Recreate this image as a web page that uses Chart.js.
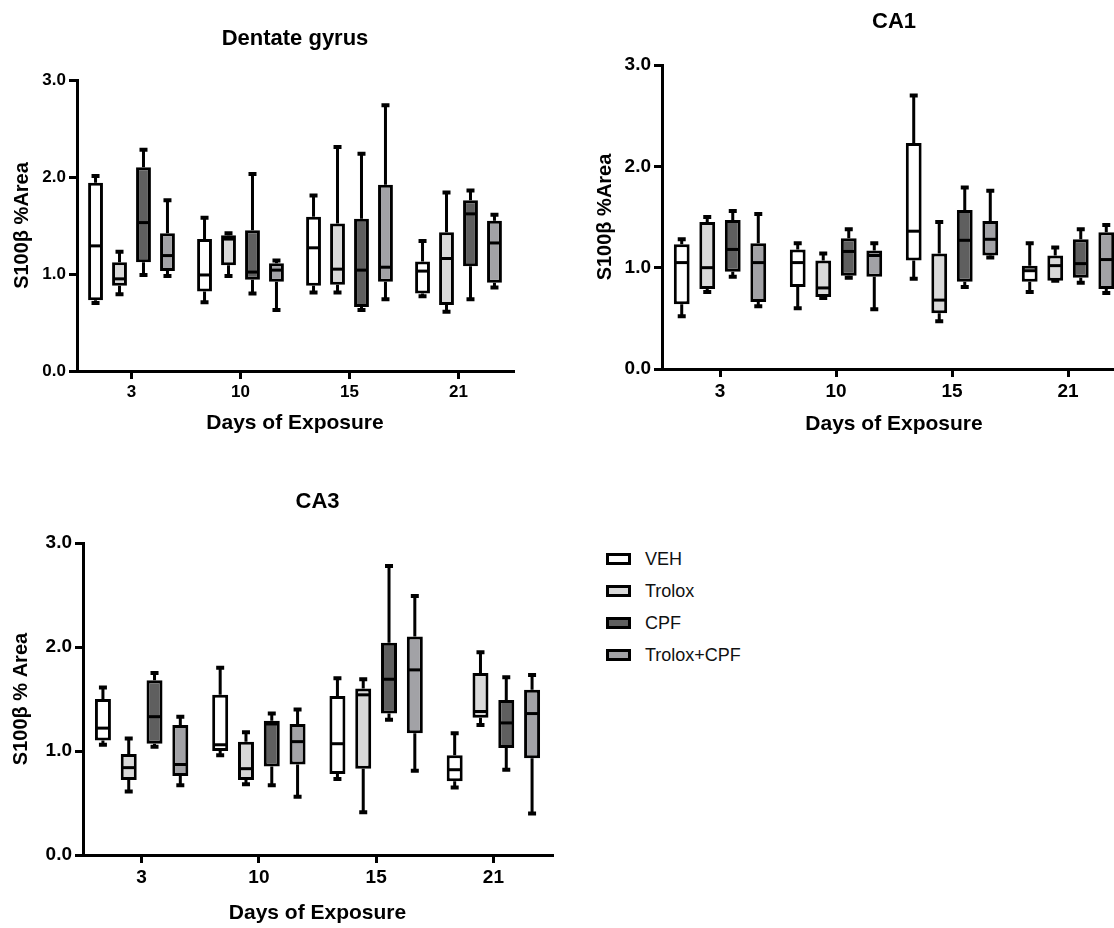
<!DOCTYPE html>
<html><head><meta charset="utf-8">
<script src="https://cdn.jsdelivr.net/npm/chart.js@4.4.1/dist/chart.umd.min.js"></script>
<style>
html,body{margin:0;padding:0;background:#fff;overflow:hidden;width:1114px;height:928px;}
#wrap{position:relative;width:1114px;height:928px;overflow:hidden;background:#fff;}
canvas{position:absolute;}
#legend{position:absolute;left:606px;top:543px;font-family:"Liberation Sans",Arial,sans-serif;font-size:18px;color:#111;}
.li{display:flex;align-items:center;height:32px;white-space:nowrap;}
.sw{width:19px;height:6px;border:3px solid #000;margin-right:14px;}
</style></head><body>
<div id="wrap">
<canvas id="c1" width="530" height="445" style="left:0;top:0"></canvas>
<canvas id="c2" width="560" height="450" style="left:580px;top:0"></canvas>
<canvas id="c3" width="570" height="458" style="left:0;top:470px"></canvas>
<div id="legend"></div>
</div>
<script>
// ---- data: each entry = [min, Q1, median, Q3, max] per day ----
const days = ['3', '10', '15', '21'];
const groups = ['VEH', 'Trolox', 'CPF', 'Trolox+CPF'];
const groupColors = ['#ffffff', '#d9d9d9', '#5f5f5f', '#a2a2a6'];
const yTicks = [0, 1, 2, 3];

// Dentate gyrus
const dgVEH    = [[0.70,0.73,1.29,1.94,2.01],[0.71,0.82,0.99,1.36,1.58],[0.81,0.88,1.27,1.59,1.81],[0.77,0.80,1.03,1.13,1.34]];
const dgTrolox = [[0.79,0.88,0.95,1.12,1.23],[0.98,1.09,1.36,1.40,1.42],[0.81,0.89,1.05,1.52,2.31],[0.61,0.68,1.16,1.43,1.84]];
const dgCPF    = [[0.99,1.12,1.53,2.10,2.28],[0.80,0.94,1.02,1.45,2.03],[0.63,0.66,1.04,1.57,2.24],[0.74,1.08,1.62,1.76,1.86]];
const dgTroCPF = [[0.98,1.03,1.19,1.42,1.76],[0.63,0.92,1.04,1.11,1.14],[0.74,0.92,1.07,1.92,2.74],[0.86,0.91,1.32,1.55,1.61]];

// CA1
const ca1VEH    = [[0.52,0.64,1.05,1.23,1.28],[0.60,0.81,1.05,1.18,1.24],[0.89,1.07,1.36,2.23,2.70],[0.76,0.86,0.97,1.02,1.24]];
const ca1Trolox = [[0.76,0.79,1.00,1.45,1.50],[0.70,0.71,0.80,1.07,1.14],[0.47,0.55,0.68,1.14,1.45],[0.87,0.87,1.02,1.12,1.20]];
const ca1CPF    = [[0.91,0.96,1.18,1.47,1.56],[0.90,0.92,1.16,1.29,1.38],[0.81,0.86,1.27,1.57,1.79],[0.85,0.90,1.04,1.28,1.38]];
const ca1TroCPF = [[0.62,0.66,1.05,1.24,1.53],[0.59,0.91,1.12,1.17,1.24],[1.10,1.12,1.28,1.46,1.76],[0.75,0.79,1.08,1.35,1.42]];

// CA3
const ca3VEH    = [[1.06,1.10,1.22,1.50,1.61],[0.96,1.00,1.06,1.54,1.80],[0.73,0.78,1.07,1.53,1.70],[0.65,0.71,0.82,0.96,1.17]];
const ca3Trolox = [[0.61,0.72,0.84,0.97,1.12],[0.68,0.72,0.83,1.09,1.18],[0.41,0.83,1.54,1.60,1.69],[1.25,1.32,1.38,1.75,1.95]];
const ca3CPF    = [[1.04,1.07,1.33,1.68,1.75],[0.67,0.85,1.26,1.29,1.36],[1.30,1.36,1.69,2.04,2.78],[0.82,1.03,1.27,1.49,1.71]];
const ca3TroCPF = [[0.67,0.76,0.87,1.25,1.33],[0.56,0.87,1.09,1.26,1.40],[0.81,1.17,1.78,2.10,2.49],[0.40,0.93,1.36,1.59,1.73]];

// ---- rendering ----
const FONT = "'Liberation Sans', Arial, Helvetica, sans-serif";
Chart.defaults.font.family = FONT;
Chart.defaults.color = '#000';

const boxWhiskerPlugin = {
  id: 'boxWhisker',
  afterDatasetsDraw(chart) {
    const ctx = chart.ctx;
    const ys = chart.scales.y;
    chart.data.datasets.forEach((ds, i) => {
      const meta = chart.getDatasetMeta(i);
      meta.data.forEach((bar, j) => {
        const s = ds.stats[j];
        const x = bar.x, w = bar.width;
        const pMin = ys.getPixelForValue(s[0]);
        const pQ1 = ys.getPixelForValue(s[1]);
        const pMed = ys.getPixelForValue(s[2]);
        const pQ3 = ys.getPixelForValue(s[3]);
        const pMax = ys.getPixelForValue(s[4]);
        ctx.save();
        ctx.strokeStyle = '#000';
        ctx.lineCap = 'butt';
        ctx.lineWidth = 3;
        ctx.beginPath();
        ctx.moveTo(x, pQ3); ctx.lineTo(x, pMax);
        ctx.moveTo(x, pQ1); ctx.lineTo(x, pMin);
        ctx.stroke();
        ctx.lineWidth = 4;
        const cap = 4;
        ctx.beginPath();
        ctx.moveTo(x - cap, pMax); ctx.lineTo(x + cap, pMax);
        ctx.moveTo(x - cap, pMin); ctx.lineTo(x + cap, pMin);
        ctx.stroke();
        ctx.lineWidth = 3;
        ctx.beginPath();
        ctx.moveTo(x - w / 2 + 2, pMed); ctx.lineTo(x + w / 2 - 2, pMed);
        ctx.stroke();
        ctx.restore();
      });
    });
  }
};

function makeChart(id, cfg) {
  const seriesList = cfg.series;
  const datasets = seriesList.map((arr, k) => ({
    label: groups[k],
    data: arr.map(s => [s[1], s[3]]),
    stats: arr,
    backgroundColor: groupColors[k],
    borderColor: '#000',
    borderWidth: 3,
    borderSkipped: false,
    categoryPercentage: 0.88,
    barPercentage: 0.62
  }));
  return new Chart(document.getElementById(id), {
    type: 'bar',
    data: { labels: days, datasets },
    plugins: [boxWhiskerPlugin],
    options: {
      responsive: false,
      animation: false,
      devicePixelRatio: 1,
      layout: { padding: { left: 0, right: cfg.padRight, top: 0, bottom: 0 } },
      plugins: {
        legend: { display: false },
        tooltip: { enabled: false },
        title: {
          display: true, text: cfg.title, fullSize: false, color: '#000',
          font: { size: 22, weight: 'bold', family: FONT },
          padding: { top: cfg.titleTop, bottom: cfg.titleBottom }
        }
      },
      scales: {
        x: {
          type: 'category',
          offset: true,
          grid: { display: true, drawOnChartArea: false, drawTicks: true, tickLength: 8, offset: false, color: '#000', lineWidth: 3 },
          border: { display: true, color: '#000', width: 3 },
          ticks: { color: '#000', maxRotation: 0, padding: 3, font: { size: cfg.tickSize, weight: 'bold', family: FONT } },
          title: { display: true, text: 'Days of Exposure', color: '#000', font: { size: 21, weight: 'bold', family: FONT }, padding: { top: 0, bottom: cfg.xTitlePad } },
          afterFit(s) { s.height = cfg.xHeight; }
        },
        y: {
          min: 0, max: 3,
          afterBuildTicks(s) { s.ticks = yTicks.map(v => ({ value: v })); },
          grid: { display: true, drawOnChartArea: false, drawTicks: true, tickLength: 8, color: '#000', lineWidth: 3 },
          border: { display: true, color: '#000', width: 3 },
          ticks: { color: '#000', padding: 3, callback: v => Number(v).toFixed(1), font: { size: cfg.tickSize, weight: 'bold', family: FONT } },
          title: { display: true, text: cfg.yTitle, color: '#000', font: { size: 20, weight: 'bold', family: FONT }, padding: { top: cfg.yTitlePad, bottom: 0 } },
          afterFit(s) { s.width = cfg.yWidth; }
        }
      }
    }
  });
}

makeChart('c1', {
  title: 'Dentate gyrus', series: [dgVEH, dgTrolox, dgCPF, dgTroCPF],
  padRight: 17, titleTop: 25.8, titleBottom: 27.8, xHeight: 74, xTitlePad: 9.4,
  yWidth: 77, yTitlePad: 10, tickSize: 17, yTitle: 'S100β %Area'
});
makeChart('c2', {
  title: 'CA1', series: [ca1VEH, ca1Trolox, ca1CPF, ca1TroCPF],
  padRight: 14, titleTop: 8.8, titleBottom: 29.8, xHeight: 81, xTitlePad: 13.4,
  yWidth: 82, yTitlePad: 13, tickSize: 19, yTitle: 'S100β %Area'
});
makeChart('c3', {
  title: 'CA3', series: [ca3VEH, ca3Trolox, ca3CPF, ca3TroCPF],
  padRight: 18, titleTop: 18.8, titleBottom: 27.8, xHeight: 73, xTitlePad: 2.4,
  yWidth: 83, yTitlePad: 9.7, tickSize: 19, yTitle: 'S100β % Area'
});

// legend (HTML, built from the group arrays)
const lg = document.getElementById('legend');
groups.forEach((g, k) => {
  const row = document.createElement('div'); row.className = 'li';
  const sw = document.createElement('span'); sw.className = 'sw'; sw.style.background = groupColors[k];
  const tx = document.createElement('span'); tx.textContent = g;
  row.appendChild(sw); row.appendChild(tx); lg.appendChild(row);
});
</script>
</body></html>
